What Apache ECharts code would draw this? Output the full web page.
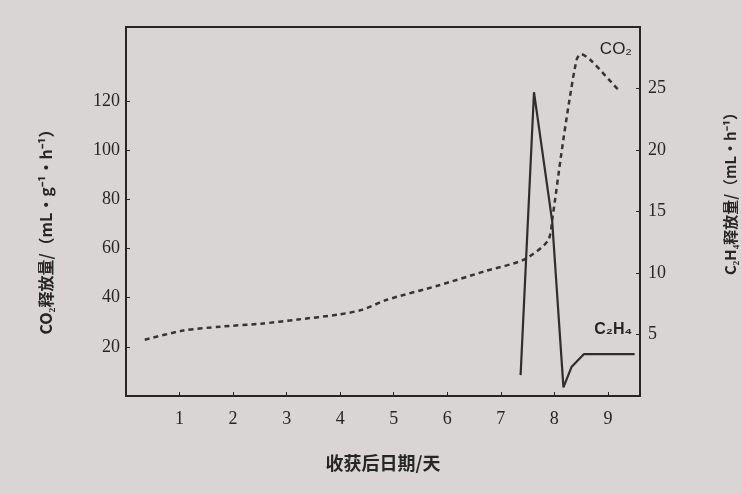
<!DOCTYPE html>
<html>
<head>
<meta charset="utf-8">
<script src="https://cdn.jsdelivr.net/npm/echarts@6/dist/echarts.min.js"></script>
<style>
html,body{margin:0;padding:0;background:#d9d5d4;}
#c{width:741px;height:494px;}
</style>
</head>
<body>
<div id="c"></div>
<script>
// ---- data ----
const xTicks = [1, 2, 3, 4, 5, 6, 7, 8, 9];
const co2Ticks = [20, 40, 60, 80, 100, 120];
const c2h4Ticks = [5, 10, 15, 20, 25];

// CO2 release (left axis), [day, value]
const co2Days   = [0.35, 1.07, 1.77, 2.53, 3.21, 3.97, 4.42, 4.87, 5.83, 6.73, 7.43, 7.88, 7.97, 8.13, 8.27, 8.42, 8.5, 8.68, 9.02, 9.2];
const co2Values = [22.9, 26.6, 28.2, 29.4, 31.1, 33.1, 35.1, 39.1, 44.9, 50.9, 55.4, 63.1, 73.2, 98.4, 118.7, 137, 139, 136.5, 128.6, 124.3];

// C2H4 release (right axis), [day, value]
const c2h4Days   = [7.37, 7.62, 7.96, 8.17, 8.32, 8.55, 9.5];
const c2h4Values = [1.7, 24.7, 14.2, 0.7, 2.35, 3.4, 3.4];

const xName = '收获后日期/天';
const yLeftName = 'CO₂释放量/（mL·g⁻¹·h⁻¹）';
const yRightName = 'C₂H₄释放量/（mL·h⁻¹）';

// ---- chart ----
const ink = '#262626';
const chart = echarts.init(document.getElementById('c'));
const co2Data = co2Days.map((d, i) => [d, co2Values[i]]);
const c2h4Data = c2h4Days.map((d, i) => [d, c2h4Values[i]]);
const numFont = {fontFamily: 'Liberation Serif', fontSize: 18, color: ink};

chart.setOption({
  backgroundColor: '#d9d5d4',
  animation: false,
  grid: {left: 126, right: 101, top: 27, bottom: 98, show: true, borderColor: ink, borderWidth: 2},
  xAxis: {
    type: 'value', min: 0, max: 9.6, interval: 1,
    name: xName, nameLocation: 'middle', nameGap: 58,
    nameTextStyle: {fontFamily: 'Noto Sans CJK SC', fontWeight: 'bold', fontSize: 18, color: ink},
    axisLine: {show: true, lineStyle: {color: ink, width: 2}},
    axisTick: {show: true, inside: true, length: 4, customValues: xTicks, lineStyle: {color: ink}},
    axisLabel: Object.assign({margin: 14, customValues: xTicks}, numFont),
    splitLine: {show: false}
  },
  yAxis: [{
    type: 'value', min: 0, max: 150, interval: 20, position: 'left',
    axisLine: {show: true, lineStyle: {color: ink, width: 2}},
    axisTick: {show: true, inside: true, length: 4, customValues: co2Ticks, lineStyle: {color: ink}},
    axisLabel: Object.assign({margin: 6, customValues: co2Ticks}, numFont),
    splitLine: {show: false}
  }, {
    type: 'value', min: 0, max: 30, interval: 5, position: 'right',
    axisLine: {show: true, lineStyle: {color: ink, width: 2}},
    axisTick: {show: true, inside: true, length: 4, customValues: c2h4Ticks, lineStyle: {color: ink}},
    axisLabel: Object.assign({margin: 8, customValues: c2h4Ticks}, numFont),
    splitLine: {show: false}
  }],
  series: [{
    name: 'CO₂', type: 'line', yAxisIndex: 0, data: co2Data,
    showSymbol: false, smooth: 0.25,
    lineStyle: {color: '#353535', width: 2.5, type: [5, 4]},
    markPoint: {
      symbol: 'circle', symbolSize: 0,
      label: {show: true, position: 'inside', formatter: 'CO₂', fontFamily: 'Liberation Sans', fontSize: 17, color: ink},
      data: [{coord: [9.15, 141]}]
    }
  }, {
    name: 'C₂H₄', type: 'line', yAxisIndex: 1, data: c2h4Data,
    showSymbol: false, smooth: false,
    lineStyle: {color: '#2e2e2e', width: 2.2},
    markPoint: {
      symbol: 'circle', symbolSize: 0,
      label: {show: true, position: 'inside', formatter: 'C₂H₄', fontFamily: 'Liberation Sans', fontWeight: 'bold', fontSize: 16, color: ink},
      data: [{coord: [9.1, 5.4]}]
    }
  }],
  graphic: [{
    type: 'text', x: 46, y: 228, rotation: Math.PI / 2,
    style: {text: yLeftName, textAlign: 'center', textVerticalAlign: 'middle', fill: ink,
      font: 'bold 16px "Noto Sans CJK SC"'}
  }, {
    type: 'text', x: 730, y: 190, rotation: Math.PI / 2,
    style: {text: yRightName, textAlign: 'center', textVerticalAlign: 'middle', fill: ink,
      font: 'bold 15px "Noto Sans CJK SC"'}
  }]
});
</script>
</body>
</html>
